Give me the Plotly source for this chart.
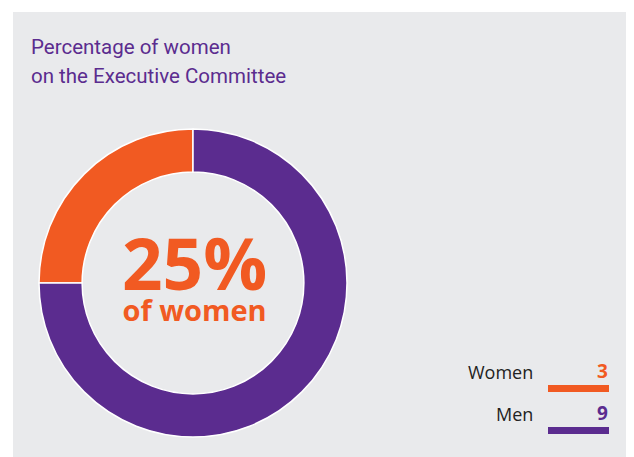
import plotly.graph_objects as go

labels = ["Women", "Men"]
values = [3, 9]
colors = ["#F15A22", "#5B2C8F"]
title_lines = ["Percentage of women", "on the Executive Committee"]
center_big = "25%"
center_small = "of women"

W, H = 634, 457
OFF = 8  # page body margin offset
def px(x): return (x - OFF) / W
def py(y): return 1 - (y - OFF) / H

fig = go.Figure()
fig.add_trace(go.Pie(
    labels=labels, values=values, sort=False, direction="clockwise", rotation=270,
    hole=0.72, marker=dict(colors=colors, line=dict(color="#FFFFFF", width=1.5)),
    textinfo="none", hoverinfo="label+value", showlegend=False,
    domain=dict(x=[px(39), px(347)], y=[py(437), py(129)]),
))

shapes = [dict(type="rect", xref="paper", yref="paper", x0=px(13), x1=1.0, y0=0, y1=py(12),
               fillcolor="#E9EAEC", line=dict(width=0), layer="below")]
annotations = []
for i, t in enumerate(title_lines):
    annotations.append(dict(text=t, x=px(29), y=py(47 + 29 * i), xref="paper", yref="paper",
                            xanchor="left", yanchor="middle", showarrow=False,
                            font=dict(family="Roboto", size=20.5, color="#5B2C8F")))
center_text = ("<b><span style='font-size:71px'>" + center_big + "</span><br>"
               "<span style='font-size:29px'>" + center_small + "</span></b>")
annotations.append(dict(text=center_text, x=px(194), y=py(271), xref="paper", yref="paper",
                        xanchor="center", yanchor="middle", showarrow=False,
                        font=dict(family="Open Sans", size=23.5, color="#F15A22")))

rows_y = [372, 414]
for i, (lab, val, col) in enumerate(zip(labels, values, colors)):
    y = rows_y[i]
    annotations.append(dict(text=lab, x=px(535), y=py(y), xref="paper", yref="paper",
                            xanchor="right", yanchor="middle", showarrow=False,
                            font=dict(family="Open Sans", size=18, color="#222222")))
    annotations.append(dict(text="<b>%d</b>" % val, x=px(610), y=py(y - 1), xref="paper", yref="paper",
                            xanchor="right", yanchor="middle", showarrow=False,
                            font=dict(family="Open Sans", size=19, color=col)))
    shapes.append(dict(type="rect", xref="paper", yref="paper", x0=px(548), x1=px(609),
                       y0=py(y + 20), y1=py(y + 13), fillcolor=col, line=dict(width=0)))

fig.update_layout(width=W, height=H, margin=dict(l=0, r=0, t=0, b=0),
                  paper_bgcolor="#FFFFFF", plot_bgcolor="#FFFFFF",
                  shapes=shapes, annotations=annotations)
fig.write_html("out.html")
